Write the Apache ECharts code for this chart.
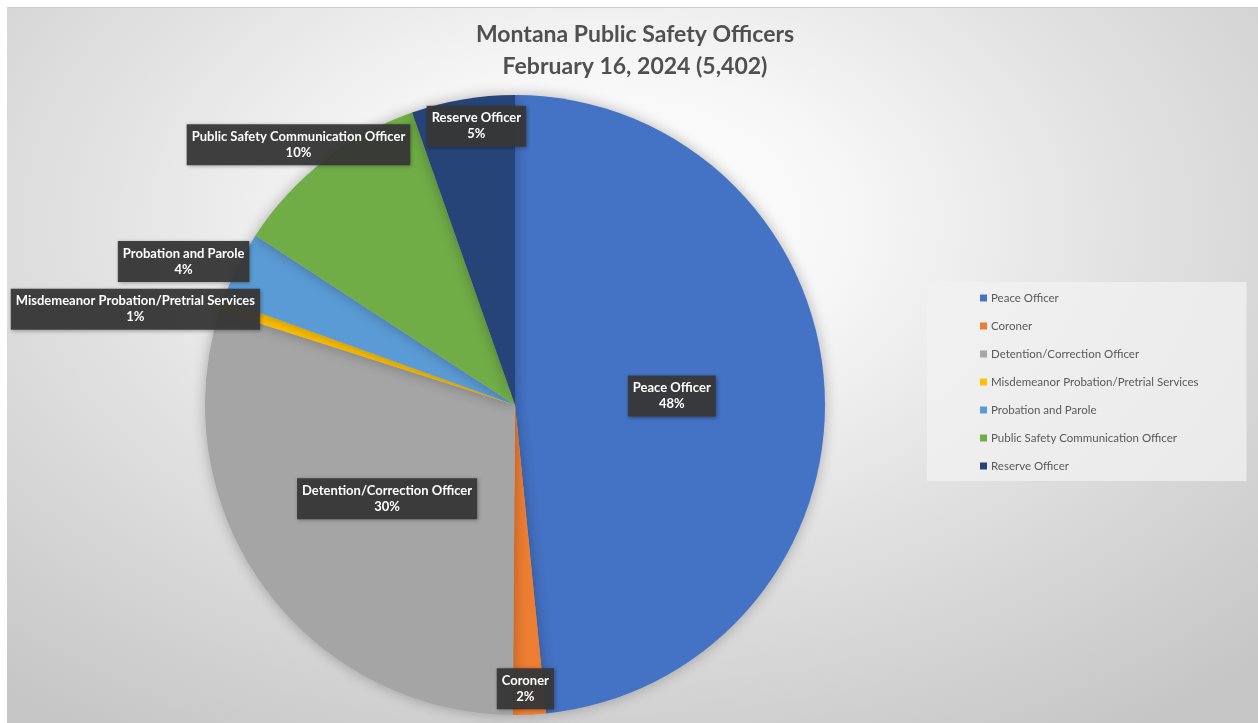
<!DOCTYPE html>
<html>
<head>
<meta charset="utf-8">
<script src="https://cdn.jsdelivr.net/npm/echarts@6/dist/echarts.min.js"></script>
<style>
html,body{margin:0;padding:0;background:#fff;width:1258px;height:723px;overflow:hidden;}
#bg{position:absolute;left:7px;top:7px;width:1251px;height:716px;border-top:1px solid #d0d0d0;box-sizing:border-box;
 background:radial-gradient(ellipse 75% 85% at 48% 30%, #ffffff 0%, #f7f7f7 25%, #e2e2e2 55%, #c6c6c6 100%);}
#chart{position:absolute;left:0;top:0;width:1258px;height:723px;}
</style>
</head>
<body>
<div id="bg"></div>
<div id="chart"></div>
<script>
const categories = ['Peace Officer','Coroner','Detention/Correction Officer','Misdemeanor Probation/Pretrial Services','Probation and Parole','Public Safety Communication Officer','Reserve Officer'];
const officerCounts = [2615, 92, 1610, 32, 200, 562, 291];
const sliceColors = ['#4472C4','#ED7D31','#A5A5A5','#FFC000','#5B9BD5','#70AD47','#264478'];
const titleText = 'Montana Public Safety Officers\nFebruary 16, 2024 (5,402)';
// label offsets from the slice's inside position (styling)
const labelOffsets = [[-1,-1],[3,126],[0,1],[-230,-45],[-190,-73],[-119,-136],[-12,-123]];

const FONT = 'Lato, "Open Sans", sans-serif';
const chart = echarts.init(document.getElementById('chart'), null, {renderer:'canvas'});
chart.setOption({
  backgroundColor: 'transparent',
  animation: false,
  color: sliceColors,
  title: {
    text: titleText,
    left: 630, top: 14, textAlign: 'center',
    textStyle: {fontFamily: FONT, fontSize: 23, fontWeight: 'bold', color: '#505050', lineHeight: 32}
  },
  legend: {
    orient: 'vertical',
    left: 927, top: 282,
    padding: [9, 48, 8, 53],
    backgroundColor: 'rgba(242,242,242,0.75)',
    itemWidth: 7, itemHeight: 7, itemGap: 14,
    icon: 'rect',
    data: categories,
    textStyle: {fontFamily: FONT, fontSize: 11.5, color: '#595959', lineHeight: 14, padding: [0,0,0,-1]}
  },
  series: [{
    type: 'pie',
    center: [515, 405],
    radius: 310,
    startAngle: 90,
    clockwise: true,
    percentPrecision: 0,
    avoidLabelOverlap: false,
    itemStyle: {shadowBlur: 14, shadowColor: 'rgba(0,0,0,0.28)', shadowOffsetX: 0, shadowOffsetY: 0},
    label: {
      show: true,
      position: 'inside',
      formatter: '{b}\n{d}%',
      fontFamily: FONT, fontSize: 13, fontWeight: 'bold', color: '#ffffff',
      lineHeight: 16,
      backgroundColor: 'rgba(56,56,56,0.95)',
      padding: [5, 5, 4, 5],
      shadowBlur: 4, shadowColor: 'rgba(0,0,0,0.35)', shadowOffsetX: 1, shadowOffsetY: 1
    },
    labelLine: {show: false},
    labelLayout: function (p) {
      const o = labelOffsets[p.dataIndex];
      return {dx: o[0], dy: o[1]};
    },
    emphasis: {disabled: true},
    data: categories.map((c, i) => ({name: c, value: officerCounts[i]}))
  }]
});
</script>
</body>
</html>
